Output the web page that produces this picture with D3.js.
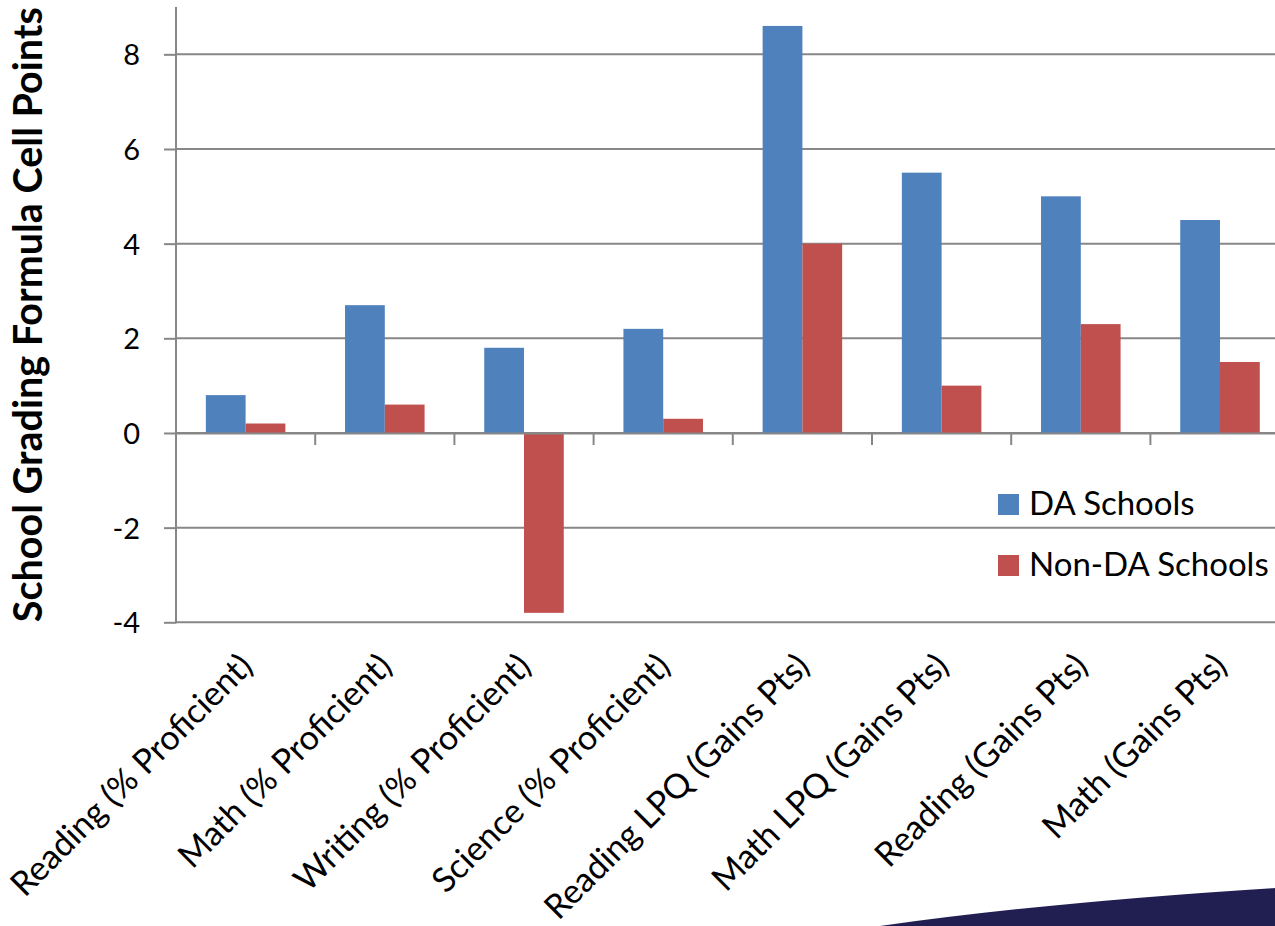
<!DOCTYPE html>
<html>
<head>
<meta charset="utf-8">
<script src="https://cdn.jsdelivr.net/npm/d3@7"></script>
<style>
  html, body { margin: 0; padding: 0; background: #ffffff; }
  svg { display: block; }
</style>
</head>
<body>
<svg id="chart" width="1275" height="926"></svg>
<script>
// ---- data ----
const categories = [
  "Reading (% Proficient)",
  "Math (% Proficient)",
  "Writing (% Proficient)",
  "Science (% Proficient)",
  "Reading LPQ (Gains Pts)",
  "Math LPQ (Gains Pts)",
  "Reading (Gains Pts)",
  "Math (Gains Pts)"
];
const seriesNames = ["DA Schools", "Non-DA Schools"];
const daSchools    = [0.8, 2.7, 1.8, 2.2, 8.6, 5.5, 5.0, 4.5];
const nonDaSchools = [0.2, 0.6, -3.8, 0.3, 4.0, 1.0, 2.3, 1.5];
const yTicks = [-4, -2, 0, 2, 4, 6, 8];
const yTitle = "School Grading Formula Cell Points";

// ---- layout ----
const svg = d3.select("#chart");
const plot = { left: 176, right: 176 + 8 * 139.2, top: 7, bottom: 622.3 };
const colors = ["#4F81BD", "#C0504D"];
const gridColor = "#878787";
const font = "Lato, 'Open Sans', sans-serif";

const x0 = d3.scaleBand().domain(categories).range([plot.left, plot.right]).padding(0);
const x1 = d3.scaleBand().domain(seriesNames).range([0, x0.bandwidth()])
  .paddingInner(0).paddingOuter(0.75);
const y = d3.scaleLinear().domain([-4, 9]).range([plot.bottom, plot.top]);

// y ticks via axis
const yAxis = d3.axisLeft(y).tickValues(yTicks).tickSize(12).tickPadding(24)
  .tickFormat(d => String(d));
const gy = svg.append("g").attr("transform", `translate(${plot.left},0)`).call(yAxis);
gy.select(".domain").remove();
gy.selectAll(".tick line").attr("stroke", gridColor).attr("stroke-width", 2);
gy.selectAll(".tick text")
  .attr("font-family", font).attr("font-size", 29).attr("fill", "#000")
  .attr("dy", "0.36em");
// gridlines
svg.append("g").selectAll("line").data(yTicks).join("line")
  .attr("x1", plot.left).attr("x2", plot.right)
  .attr("y1", d => y(d)).attr("y2", d => y(d))
  .attr("stroke", gridColor).attr("stroke-width", 2);

// bars
const rows = categories.map((c, i) => ({ cat: c, vals: [daSchools[i], nonDaSchools[i]] }));
const groups = svg.append("g").selectAll("g").data(rows).join("g")
  .attr("transform", d => `translate(${x0(d.cat)},0)`);
groups.selectAll("rect").data(d => d.vals.map((v, j) => ({ v, s: seriesNames[j], j })))
  .join("rect")
  .attr("x", d => x1(d.s))
  .attr("width", x1.bandwidth())
  .attr("y", d => y(Math.max(0, d.v)))
  .attr("height", d => Math.abs(y(d.v) - y(0)))
  .attr("fill", d => colors[d.j]);

// vertical axis line
svg.append("line")
  .attr("x1", plot.left).attr("x2", plot.left)
  .attr("y1", plot.top).attr("y2", plot.bottom + 1)
  .attr("stroke", gridColor).attr("stroke-width", 2);

// horizontal category axis at zero
const xAxis = d3.axisBottom(x0).tickSize(0).tickFormat("");
const gx = svg.append("g").attr("transform", `translate(0,${y(0)})`).call(xAxis);
gx.select(".domain").attr("stroke", gridColor).attr("stroke-width", 2);
const bounds = categories.slice(1).map(c => x0(c));
gx.append("g").selectAll("line").data(bounds).join("line")
  .attr("x1", d => d).attr("x2", d => d).attr("y1", 0).attr("y2", 12)
  .attr("stroke", gridColor).attr("stroke-width", 2);

// category labels (low position, rotated -45)
svg.append("g").selectAll("text").data(categories).join("text")
  .attr("transform", d => `translate(${x0(d) + x0.bandwidth() / 2 + 9},${plot.bottom + 46}) rotate(-45)`)
  .attr("text-anchor", "end")
  .attr("font-family", font).attr("font-size", 34).attr("fill", "#000")
  .text(d => d);

// y title
svg.append("text")
  .attr("transform", `translate(42,${(plot.top + plot.bottom) / 2}) rotate(-90)`)
  .attr("text-anchor", "middle")
  .attr("font-family", font).attr("font-weight", "bold").attr("font-size", 39.5).attr("fill", "#000")
  .text(yTitle);

// legend
const lg = svg.append("g").attr("transform", "translate(998,494)");
const li = lg.selectAll("g").data(seriesNames).join("g")
  .attr("transform", (d, i) => `translate(0,${i * 61})`);
li.append("rect").attr("width", 21).attr("height", 21).attr("fill", (d, i) => colors[i]);
li.append("text").attr("x", 31).attr("y", 21)
  .attr("font-family", font).attr("font-size", 33).attr("fill", "#000")
  .text(d => d);

// decorative swoosh bottom-right
svg.append("path")
  .attr("d", "M880,926 Q1050,902 1275,888 L1275,926 Z")
  .attr("fill", "#211E52");
</script>
</body>
</html>
